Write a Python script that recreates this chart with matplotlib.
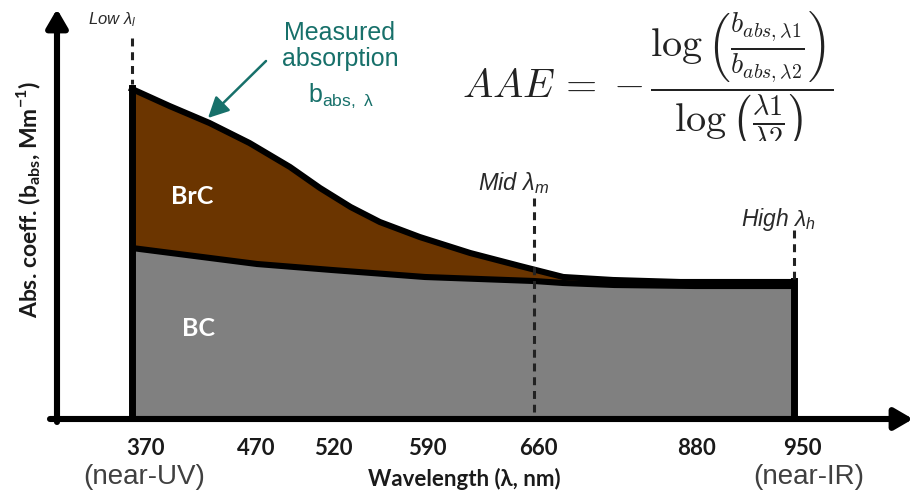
import numpy as np
import matplotlib
matplotlib.use("Agg")
import matplotlib.pyplot as plt
from matplotlib.transforms import Bbox

# ---------------- data (schematic values) ----------------
tick_wl = [370, 470, 520, 590, 660, 880, 950]
tick_labels = ["370", "470", "520", "590", "660", "880", "950"]

total_wl = [370, 400, 432, 464, 492, 512, 534, 556, 586, 619, 651, 700, 768, 860, 950]
total_abs = [328, 311, 294, 274, 250, 229, 210, 195, 180, 164, 151, 140, 137, 135, 135]

bc_wl = [370, 470, 520, 590, 660, 700, 770, 880, 950]
bc_abs = [169, 153, 147, 140, 136, 134, 132, 131, 131]

low_wl, mid_wl, high_wl = 370, 660, 950

# ---------------- layout (schematic, non-linear wavelength axis) ----------------
W, H, DPI = 914, 494, 100
BASE = 417                      # pixel row of the baseline
anchor_px = [132, 257, 332, 425, 534, 695, 794]
label_nudge = [13, -1, 1, 2, 4, 2, 8]


def xw(wl):
    return np.interp(wl, tick_wl, anchor_px)


def Y(py):
    return BASE - py


BROWN = "#6b3500"
GRAY = "#808080"
TEAL = "#17706a"

plt.rcParams["mathtext.fontset"] = "custom"
plt.rcParams["mathtext.rm"] = "Liberation Sans"
plt.rcParams["mathtext.it"] = "Liberation Sans:italic"
plt.rcParams["mathtext.bf"] = "Lato:bold"

fig = plt.figure(figsize=(W / DPI, H / DPI), dpi=DPI)
ax = fig.add_axes([0, (H - BASE) / H, 1, BASE / H])
ax.set_xlim(0, W)
ax.set_ylim(0, BASE)
for s in ax.spines.values():
    s.set_visible(False)
ax.set_yticks([])

LW = 4.4

tx = xw(total_wl)
bx = xw(bc_wl)
grid = np.union1d(tx, bx)
t_on = np.interp(grid, tx, total_abs)
b_on = np.interp(grid, bx, bc_abs)

ax.fill_between(grid, 0, b_on, color=GRAY, lw=0, zorder=1)
ax.fill_between(grid, b_on, t_on, where=t_on >= b_on, color=BROWN, lw=0, zorder=1)
ax.plot(bx, bc_abs, color="black", lw=LW, solid_capstyle="butt", zorder=3)
ax.plot(tx, total_abs, color="black", lw=LW, solid_joinstyle="round", zorder=3)
ax.plot([xw(370), xw(370)], [0, total_abs[0] + 1.5], color="black", lw=5, zorder=3)
ax.plot([xw(950), xw(950)], [0, total_abs[-1] + 1.5], color="black", lw=5, zorder=3)

# dashed reference lines
dash = dict(color="#222222", lw=2.2, linestyle=(0, (2.6, 1.9)), zorder=4)
ax.plot([xw(low_wl)] * 2, [Y(38), Y(84)], **dash)
ax.plot([xw(mid_wl)] * 2, [Y(198), Y(412)], **dash)
ax.plot([xw(high_wl)] * 2, [Y(230), Y(279)], **dash)

# axes arrows
ax.annotate("", xy=(913, -2), xytext=(50, -2), xycoords="data", annotation_clip=False,
            arrowprops=dict(arrowstyle="-|>,head_length=0.55,head_width=0.32", lw=LW,
                            color="black", shrinkA=0, shrinkB=0, mutation_scale=20), zorder=5)
ax.annotate("", xy=(57, Y(9)), xytext=(57, -5), xycoords="data", annotation_clip=False,
            arrowprops=dict(arrowstyle="-|>,head_length=0.55,head_width=0.32", lw=LW,
                            color="black", shrinkA=0, shrinkB=0, mutation_scale=20), zorder=5)

# ticks
ax.set_xticks(xw(tick_wl) + np.array(label_nudge), tick_labels)
ax.tick_params(axis="x", length=0, pad=15)
for lab in ax.get_xticklabels():
    lab.set_fontfamily(["Lato", "DejaVu Sans"])
    lab.set_fontweight("bold")
    lab.set_fontsize(16)
    lab.set_color("#1a1a1a")

ax.text(464, Y(479), "Wavelength (λ, nm)", ha="center", va="center", fontsize=16,
        fontweight="bold", family=["Lato", "DejaVu Sans"], color="#1a1a1a")
ax.text(144, Y(477), "(near-UV)", ha="center", va="center", fontsize=20,
        family="Liberation Sans", color="#404040")
ax.text(809, Y(477), "(near-IR)", ha="center", va="center", fontsize=20,
        family="Liberation Sans", color="#404040")

ax.text(29, Y(200), r"Abs. coeff. (b$_{\mathbf{abs}}$, Mm$^{\mathbf{-1}}$)", rotation=90,
        ha="center", va="center", fontsize=16.5, fontweight="bold", family="Lato",
        color="#1a1a1a")

# region labels
ax.text(192, Y(196), "BrC", ha="center", va="center", fontsize=18, fontweight="bold",
        family="Lato", color="white", zorder=6)
ax.text(199, Y(328), "BC", ha="center", va="center", fontsize=18, fontweight="bold",
        family="Lato", color="white", zorder=6)

# wavelength markers
lab_kw = dict(ha="center", va="center", style="italic",
              family="Liberation Sans", color="#2a2a2a")
ax.text(112, Y(20), r"Low $λ_{l}$", fontsize=12, **lab_kw)
ax.text(514, Y(183), r"Mid $λ_{m}$", fontsize=17, **lab_kw)
ax.text(778, Y(219), r"High $λ_{h}$", fontsize=16.5, **lab_kw)

# measured absorption annotation
ax.text(340, Y(46), "Measured\nabsorption", ha="center", va="center", fontsize=18,
        family="Liberation Sans", color=TEAL, linespacing=1.15)
ax.text(341, Y(96), r"b$_{\mathrm{abs,\ λ}}$", ha="center", va="center", fontsize=18,
        family="Liberation Sans", color=TEAL)
ax.annotate("", xy=(xw(430) + 1, Y(118)), xytext=(266, Y(61)), xycoords="data",
            arrowprops=dict(arrowstyle="-|>,head_length=0.9,head_width=0.45", lw=1.8,
                            color=TEAL, shrinkA=0, shrinkB=0, mutation_scale=14))

# formula
f = ax.text(462, Y(98),
            r"$AAE\,=\;{-}\,\dfrac{\log\left(\frac{b_{abs,\lambda 1}}{b_{abs,\lambda 2}}\right)}"
            r"{\log\left(\frac{\lambda 1}{\lambda 2}\right)}$",
            ha="left", va="baseline", fontsize=29, math_fontfamily="cm", color="#222222")
f.set_clip_box(Bbox.from_extents(0, H - 141, W, H))
f.set_clip_on(True)

fig.savefig("out.png", dpi=DPI)
